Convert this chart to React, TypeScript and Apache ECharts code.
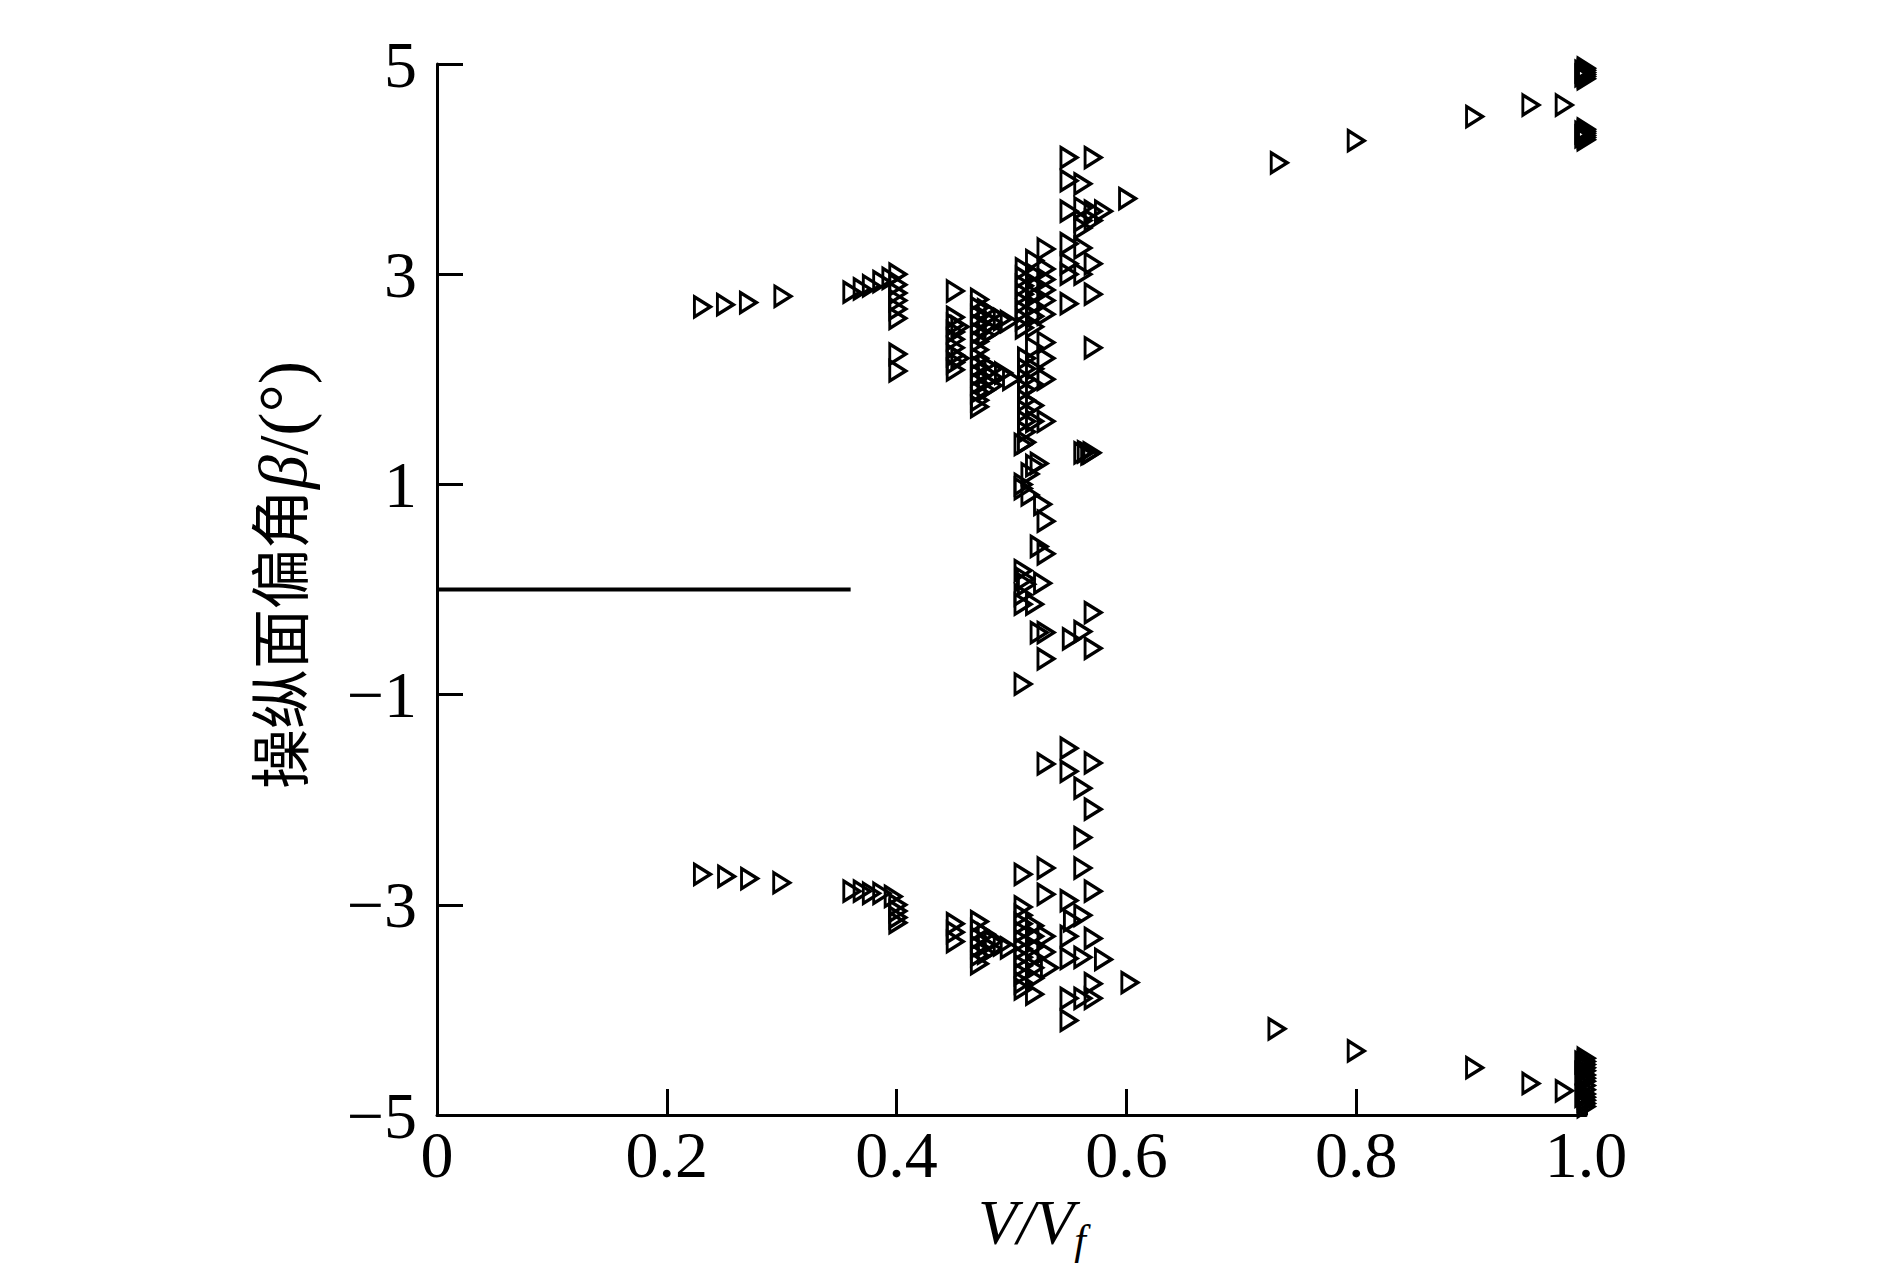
import React, { useEffect, useRef } from "react";
import * as echarts from "echarts";

// x ticks / y ticks
const xTicks = [0, 0.2, 0.4, 0.6, 0.8, 1.0];
const yTicks = [-5, -3, -1, 1, 3, 5];

// reference line at beta = 0
const baseLine: [number, number][] = [[0, 0], [0.36, 0]];

// upper branch, low speed
const upperLow: [number, number][] = [
  [0.231, 2.69], [0.251, 2.71], [0.271, 2.73], [0.301, 2.79],
  [0.361, 2.83], [0.37, 2.86], [0.378, 2.89], [0.387, 2.93], [0.395, 2.96],
  [0.401, 3.0], [0.401, 2.9], [0.401, 2.82], [0.401, 2.75], [0.401, 2.67], [0.401, 2.58],
  [0.401, 2.24], [0.401, 2.08],
];

// upper branch, middle cluster
const upperMid: [number, number][] = [
  [0.451, 2.84], [0.451, 2.59], [0.451, 2.52], [0.451, 2.45], [0.451, 2.38], [0.451, 2.3],
  [0.451, 2.23], [0.451, 2.16], [0.451, 2.09], [0.455, 2.5], [0.455, 2.2],
  [0.472, 2.76], [0.472, 2.68], [0.472, 2.6], [0.472, 2.52], [0.472, 2.44], [0.472, 2.36],
  [0.472, 2.28], [0.472, 2.2], [0.472, 2.12], [0.472, 2.04], [0.472, 1.96], [0.472, 1.88],
  [0.472, 1.8], [0.472, 1.74],
  [0.478, 2.66], [0.478, 2.58], [0.478, 2.5], [0.478, 2.42], [0.478, 2.14], [0.478, 2.06],
  [0.478, 1.98], [0.478, 1.9],
  [0.484, 2.62], [0.484, 2.54], [0.484, 2.46], [0.484, 2.1], [0.484, 2.02], [0.484, 1.94],
  [0.492, 2.57], [0.498, 2.55], [0.493, 2.06], [0.5, 2.0],
  [0.511, 3.05], [0.511, 2.97], [0.511, 2.89], [0.511, 2.81], [0.511, 2.73], [0.511, 2.65],
  [0.511, 2.57], [0.511, 2.49],
  [0.513, 2.2], [0.513, 2.1], [0.513, 2.0], [0.513, 1.9], [0.513, 1.8], [0.513, 1.7],
  [0.513, 1.6], [0.513, 1.5], [0.513, 1.4],
  [0.52, 3.13], [0.52, 3.0], [0.52, 2.9], [0.52, 2.8], [0.52, 2.7], [0.52, 2.6], [0.52, 2.5],
  [0.52, 2.3], [0.52, 2.1], [0.52, 1.95], [0.52, 1.75], [0.52, 1.6],
  [0.53, 3.24], [0.53, 3.05], [0.53, 2.95], [0.53, 2.85], [0.53, 2.75], [0.53, 2.62],
  [0.53, 2.35], [0.53, 2.2], [0.53, 2.0], [0.53, 1.6],
  [0.55, 4.11], [0.55, 3.89], [0.55, 3.6], [0.55, 3.29], [0.55, 3.1], [0.55, 3.0], [0.55, 2.72],
  [0.562, 3.86], [0.562, 3.63], [0.562, 3.51], [0.562, 3.44], [0.562, 3.25], [0.562, 3.0],
  [0.571, 4.11], [0.571, 3.6], [0.571, 3.51], [0.571, 3.1], [0.571, 2.81], [0.571, 2.3],
  [0.58, 3.6], [0.601, 3.72],
  [0.562, 1.3], [0.565, 1.31], [0.568, 1.29], [0.57, 1.3],
];

// points around beta = 0
const center: [number, number][] = [
  [0.516, 1.1], [0.516, 0.9], [0.524, 1.2],
  [0.51, 1.38], [0.52, 1.18], [0.51, 1.0], [0.51, 0.96], [0.527, 0.81], [0.53, 0.65],
  [0.524, 0.41], [0.53, 0.34], [0.51, 0.18], [0.512, 0.1], [0.513, 0.05], [0.527, 0.06],
  [0.51, -0.05], [0.51, -0.14], [0.52, -0.14], [0.524, -0.41], [0.53, -0.41], [0.53, -0.66],
  [0.51, -0.9],
  [0.571, -0.22], [0.552, -0.47], [0.562, -0.4], [0.571, -0.56],
];

// lower branch, low speed
const lowerLow: [number, number][] = [
  [0.231, -2.71], [0.252, -2.73], [0.272, -2.75], [0.3, -2.79],
  [0.361, -2.87], [0.37, -2.87], [0.378, -2.89], [0.387, -2.89], [0.397, -2.92],
  [0.401, -3.0], [0.401, -3.06], [0.401, -3.12], [0.401, -3.17],
];

// lower branch, middle cluster
const lowerMid: [number, number][] = [
  [0.451, -3.18], [0.451, -3.26], [0.451, -3.35],
  [0.472, -3.16], [0.472, -3.24], [0.472, -3.32], [0.472, -3.4], [0.472, -3.48], [0.472, -3.56],
  [0.478, -3.28], [0.478, -3.38], [0.478, -3.46], [0.484, -3.35], [0.484, -3.42],
  [0.498, -3.41], [0.492, -3.38],
  [0.51, -2.71], [0.51, -3.02], [0.51, -3.1], [0.51, -3.18], [0.51, -3.26], [0.51, -3.34],
  [0.51, -3.42], [0.51, -3.5], [0.51, -3.58], [0.51, -3.66], [0.51, -3.74], [0.51, -3.8],
  [0.52, -3.2], [0.52, -3.3], [0.52, -3.4], [0.52, -3.5], [0.52, -3.6], [0.52, -3.7], [0.52, -3.85],
  [0.53, -2.65], [0.53, -2.9], [0.53, -3.3], [0.53, -3.45], [0.533, -3.6],
  [0.53, -1.66], [0.55, -1.51], [0.55, -1.73], [0.571, -1.65], [0.562, -1.89], [0.571, -2.09],
  [0.562, -2.36], [0.562, -2.65], [0.571, -2.87], [0.55, -2.96], [0.553, -3.15], [0.562, -3.1],
  [0.571, -3.32], [0.55, -3.3], [0.55, -3.51], [0.562, -3.5], [0.58, -3.52], [0.571, -3.75],
  [0.55, -3.89], [0.55, -4.1], [0.562, -3.89], [0.571, -3.89], [0.603, -3.74],
];

// high speed branches
const upperHigh: [number, number][] = [
  [0.733, 4.06], [0.8, 4.27], [0.903, 4.5], [0.952, 4.61], [0.981, 4.61],
  [1.0, 4.96], [1.0, 4.94], [1.0, 4.92], [1.0, 4.9], [1.0, 4.88], [1.0, 4.86],
  [0.998, 4.93], [0.998, 4.89],
  [1.0, 4.38], [1.0, 4.36], [1.0, 4.34], [1.0, 4.32], [1.0, 4.3], [1.0, 4.28],
  [0.998, 4.35], [0.998, 4.31],
];
const lowerHigh: [number, number][] = [
  [0.731, -4.18], [0.8, -4.39], [0.903, -4.55], [0.952, -4.7], [0.981, -4.77],
  [1.0, -4.46], [1.0, -4.49], [1.0, -4.52], [1.0, -4.55], [1.0, -4.58], [1.0, -4.62],
  [1.0, -4.65], [1.0, -4.68], [1.0, -4.72], [1.0, -4.76], [1.0, -4.8], [1.0, -4.83],
  [1.0, -4.86], [1.0, -4.89], [1.0, -4.92], [0.998, -4.5], [0.998, -4.6], [0.998, -4.82],
];

const TRI = "path://M0,0 L20,10 L0,20 Z";
const SERIF = "'Liberation Serif', 'Times New Roman', serif";

export default function App() {
  const ref = useRef<HTMLDivElement>(null);
  useEffect(() => {
    if (!ref.current) return;
    const chart = echarts.init(ref.current, undefined, { renderer: "svg" });
    const allPoints = [
      ...upperLow, ...upperMid, ...center, ...lowerLow, ...lowerMid, ...upperHigh, ...lowerHigh,
    ];
    chart.setOption({
      animation: false,
      backgroundColor: "#fff",
      grid: { left: 437, top: 64, width: 1149, height: 1051, containLabel: false },
      xAxis: {
        type: "value",
        min: xTicks[0],
        max: xTicks[xTicks.length - 1],
        interval: 0.2,
        splitLine: { show: false },
        axisLine: { show: true, onZero: false, lineStyle: { color: "#000", width: 3 } },
        axisTick: { show: true, inside: true, length: 26, lineStyle: { color: "#000", width: 3 } },
        axisLabel: {
          color: "#000",
          fontFamily: SERIF,
          fontSize: 66,
          margin: 6,
          formatter: (v: number) => (v === 0 ? "0" : v.toFixed(1)),
        },
      },
      yAxis: {
        type: "value",
        min: yTicks[0],
        max: yTicks[yTicks.length - 1],
        interval: 2,
        splitLine: { show: false },
        axisLine: { show: true, onZero: false, lineStyle: { color: "#000", width: 3 } },
        axisTick: { show: true, inside: true, length: 26, lineStyle: { color: "#000", width: 3 } },
        axisLabel: {
          color: "#000",
          fontFamily: SERIF,
          fontSize: 66,
          margin: 20,
          formatter: (v: number) => (v < 0 ? "\u2212" + Math.abs(v) : String(v)),
        },
      },
      series: [
        {
          type: "line",
          data: baseLine,
          symbol: "none",
          lineStyle: { color: "#000", width: 4 },
          silent: true,
        },
        {
          type: "scatter",
          data: allPoints,
          symbol: TRI,
          symbolSize: [16, 20],
          itemStyle: {
            color: "rgba(0,0,0,0)",
            borderColor: "#000",
            borderWidth: 3.2,
            opacity: 1,
          },
        },
      ],
      graphic: [
        {
          type: "text",
          x: 283,
          y: 575,
          rotation: Math.PI / 2,
          style: {
            text: "操纵面偏角{b|β}{c|/(°)}",
            fontFamily: `'Liberation Serif', 'Noto Sans CJK SC', serif`,
            fontSize: 60,
            fill: "#000",
            align: "center",
            verticalAlign: "middle",
            rich: {
              b: { fontStyle: "italic", fontFamily: SERIF, fontSize: 68, fill: "#000" },
              c: { fontFamily: SERIF, fontSize: 70, fill: "#000" },
            },
          },
        },
        {
          type: "text",
          x: 1026,
          y: 1222,
          style: {
            text: "V/V",
            fontFamily: SERIF,
            fontStyle: "italic",
            fontSize: 64,
            fill: "#000",
            align: "center",
            verticalAlign: "middle",
          },
        },
        {
          type: "text",
          x: 1080,
          y: 1240,
          style: {
            text: "f",
            fontFamily: SERIF,
            fontStyle: "italic",
            fontSize: 42,
            fill: "#000",
            align: "center",
            verticalAlign: "middle",
          },
        },
      ],
    });
    return () => chart.dispose();
  }, []);
  return (
    <div
      ref={ref}
      style={{ position: "fixed", left: 0, top: 0, width: 1890, height: 1270, background: "#fff" }}
    />
  );
}
